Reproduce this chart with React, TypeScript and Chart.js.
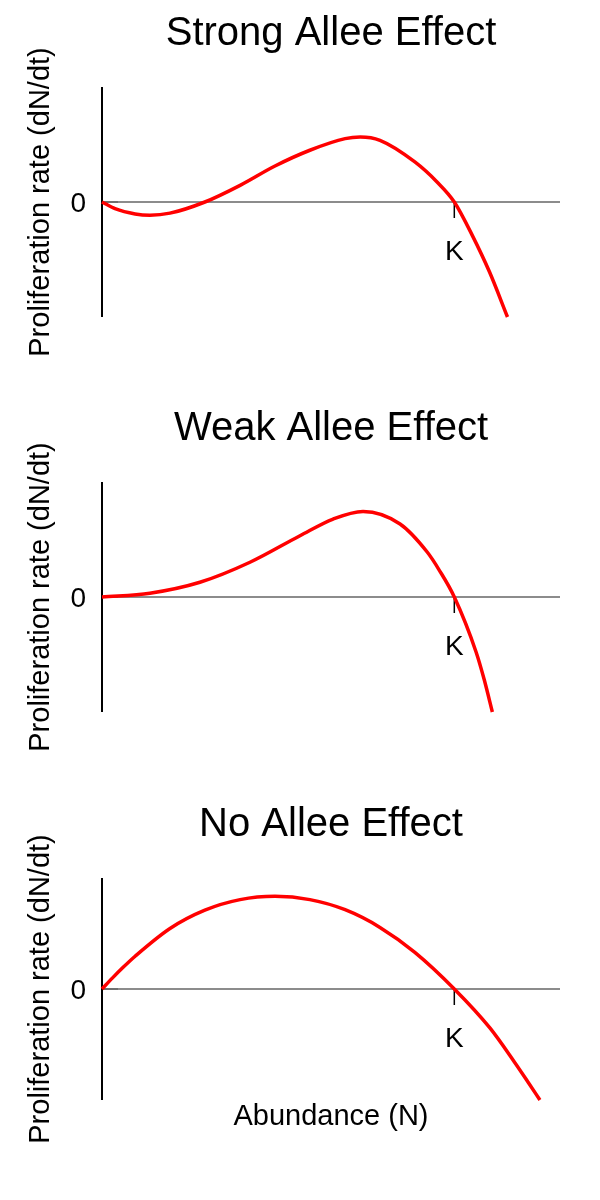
import React, { useEffect, useRef } from "react";
import { Chart, registerables } from "chart.js";

Chart.register(...registerables);

// ---- data ----
const titles = ["Strong Allee Effect", "Weak Allee Effect", "No Allee Effect"];
const yAxisLabel = "Proliferation rate (dN/dt)";
const xAxisLabel = "Abundance (N)";
const zeroTickLabel = "0";
const capacityLabel = "K";
const capacityValue = 1.0;

const strongN = [0, 0.037, 0.094, 0.136, 0.193, 0.292, 0.392, 0.491, 0.59, 0.69, 0.733, 0.789, 0.888, 0.951, 1.0, 1.051, 1.1, 1.151];
const strongRate = [0, -0.058, -0.104, -0.115, -0.097, 0, 0.145, 0.313, 0.45, 0.551, 0.565, 0.536, 0.348, 0.174, 0, -0.29, -0.609, -1.0];

const weakN = [0, 0.136, 0.278, 0.42, 0.562, 0.656, 0.741, 0.846, 0.923, 0.958, 1.0, 1.062, 1.085, 1.108];
const weakRate = [0, 0.033, 0.128, 0.302, 0.533, 0.678, 0.744, 0.635, 0.391, 0.23, 0, -0.48, -0.72, -1.0];

const noN = [0, 0.03, 0.06, 0.094, 0.193, 0.292, 0.392, 0.491, 0.59, 0.69, 0.789, 0.888, 1.0, 1.101, 1.17, 1.21, 1.243];
const noRate = [0, 0.1, 0.195, 0.295, 0.545, 0.71, 0.805, 0.835, 0.805, 0.714, 0.555, 0.33, 0, -0.351, -0.655, -0.842, -1.0];

const xMin = 0;
const xMax = 1.3;
const yMin = -1;
const yMax = 1;

const FONT = "'Liberation Sans', Arial, Helvetica, sans-serif";

const alleePlugin = {
  id: "alleeAxes",
  beforeDatasetsDraw(chart: any) {
    const { ctx, chartArea } = chart;
    const xs = chart.scales.x;
    const ys = chart.scales.y;
    const y0 = ys.getPixelForValue(0);
    const x0 = xs.getPixelForValue(xMin);
    const xK = xs.getPixelForValue(capacityValue);
    ctx.save();
    ctx.lineCap = "butt";
    // zero line
    ctx.strokeStyle = "#8c8c8c";
    ctx.lineWidth = 2;
    ctx.beginPath();
    ctx.moveTo(x0, y0);
    ctx.lineTo(chartArea.right, y0);
    ctx.stroke();
    // short darker tick at 0
    ctx.strokeStyle = "#707070";
    ctx.beginPath();
    ctx.moveTo(x0, y0);
    ctx.lineTo(x0 + 16, y0);
    ctx.stroke();
    // y axis
    ctx.strokeStyle = "#000";
    ctx.lineWidth = 2;
    ctx.beginPath();
    ctx.moveTo(x0, chartArea.top);
    ctx.lineTo(x0, chartArea.bottom);
    ctx.stroke();
    // K tick
    ctx.lineWidth = 1.5;
    ctx.beginPath();
    ctx.moveTo(xK, y0);
    ctx.lineTo(xK, y0 + 16);
    ctx.stroke();
    ctx.restore();
  },
  afterDraw(chart: any, _args: any, opts: any) {
    const { ctx, chartArea } = chart;
    const xs = chart.scales.x;
    const ys = chart.scales.y;
    const y0 = ys.getPixelForValue(0);
    const x0 = xs.getPixelForValue(xMin);
    const xK = xs.getPixelForValue(capacityValue);
    const cx = (chartArea.left + chartArea.right) / 2;
    const cy = (chartArea.top + chartArea.bottom) / 2;
    ctx.save();
    ctx.fillStyle = "#000";
    // title
    ctx.font = `40px ${FONT}`;
    ctx.textAlign = "center";
    ctx.textBaseline = "alphabetic";
    ctx.fillText(opts.title, cx, chartArea.top - 42);
    // zero label
    ctx.font = `28px ${FONT}`;
    ctx.textAlign = "right";
    ctx.fillText(zeroTickLabel, x0 - 16, y0 + 10);
    // K label
    ctx.textAlign = "center";
    ctx.fillText(capacityLabel, xK, y0 + 58);
    // x label
    if (opts.showX) {
      ctx.font = `29px ${FONT}`;
      ctx.fillText(xAxisLabel, cx, chartArea.bottom + 25);
    }
    // y label
    ctx.font = `29px ${FONT}`;
    ctx.translate(49, cy);
    ctx.rotate(-Math.PI / 2);
    ctx.textAlign = "center";
    ctx.fillText(yAxisLabel, 0, 0);
    ctx.restore();
  },
};

type PanelProps = {
  title: string;
  n: number[];
  rate: number[];
  height: number;
  padTop: number;
  padBottom: number;
  showX: boolean;
};

function Panel({ title, n, rate, height, padTop, padBottom, showX }: PanelProps) {
  const ref = useRef<HTMLCanvasElement | null>(null);
  useEffect(() => {
    if (!ref.current) return;
    const chart = new Chart(ref.current, {
      type: "line",
      data: {
        datasets: [
          {
            data: n.map((x, i) => ({ x, y: rate[i] })),
            borderColor: "rgb(255,0,0)",
            borderWidth: 3.5,
            pointRadius: 0,
            cubicInterpolationMode: "monotone",
            fill: false,
            clip: false as any,
          },
        ],
      },
      options: {
        animation: false,
        responsive: false,
        devicePixelRatio: 1,
        layout: { padding: { left: 102, right: 40, top: padTop, bottom: padBottom } },
        scales: {
          x: { type: "linear", min: xMin, max: xMax, display: false },
          y: { type: "linear", min: yMin, max: yMax, display: false },
        },
        plugins: {
          legend: { display: false },
          tooltip: { enabled: false },
          alleeAxes: { title, showX },
        } as any,
      },
      plugins: [alleePlugin as any],
    });
    return () => chart.destroy();
  }, [title, n, rate, height, padTop, padBottom, showX]);
  return (
    <canvas
      ref={ref}
      width={600}
      height={height}
      style={{ display: "block", width: 600, height }}
    />
  );
}

export default function App() {
  return (
    <div style={{ position: "absolute", left: 0, top: 0, width: 600, height: 1200, background: "#fff" }}>
      <Panel title={titles[0]} n={strongN} rate={strongRate} height={395} padTop={87} padBottom={78} showX={false} />
      <Panel title={titles[1]} n={weakN} rate={weakRate} height={395} padTop={87} padBottom={78} showX={false} />
      <Panel title={titles[2]} n={noN} rate={noRate} height={410} padTop={88} padBottom={100} showX={true} />
    </div>
  );
}
